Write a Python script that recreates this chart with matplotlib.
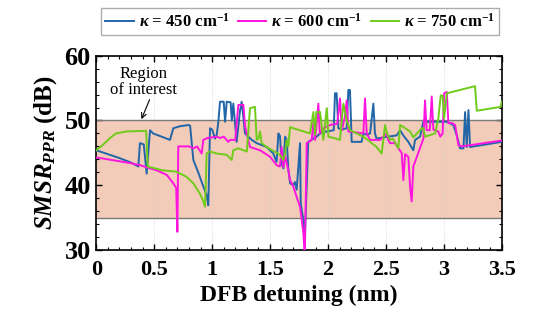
import matplotlib
matplotlib.use("Agg")
import matplotlib.pyplot as plt
from matplotlib.ticker import MultipleLocator, FuncFormatter

plt.rcParams['font.family'] = ['Liberation Serif', 'DejaVu Serif']
plt.rcParams['font.weight'] = 'bold'
plt.rcParams['mathtext.fontset'] = 'custom'
plt.rcParams['mathtext.rm'] = 'Liberation Serif:bold'
plt.rcParams['mathtext.it'] = 'Liberation Serif:italic:bold'
plt.rcParams['mathtext.bf'] = 'Liberation Serif:bold'

# ---- data ----
x450 = [0, 0.1, 0.2, 0.3, 0.363, 0.377, 0.41, 0.435, 0.464, 0.49, 0.55, 0.636, 0.665, 0.72, 0.795, 0.81,
        0.838, 0.88, 0.924, 0.953, 0.967, 0.982, 1.0, 1.025, 1.04, 1.054, 1.068, 1.10, 1.112, 1.126, 1.16,
        1.17, 1.183, 1.198, 1.212, 1.241, 1.255, 1.284, 1.342, 1.385, 1.471, 1.528, 1.557, 1.572, 1.586,
        1.600, 1.615, 1.630, 1.644, 1.658, 1.673, 1.70, 1.715, 1.730, 1.745, 1.759, 1.765, 1.788, 1.80,
        1.83, 1.874, 1.903, 1.932, 1.96, 1.99, 2.02, 2.05, 2.061, 2.075, 2.09, 2.12, 2.162, 2.176, 2.19,
        2.205, 2.26, 2.29, 2.306, 2.335, 2.364, 2.392, 2.406, 2.42, 2.52, 2.594, 2.623, 2.65, 2.694, 2.737,
        2.752, 2.795, 2.824, 2.94, 3.026, 3.083, 3.112, 3.14, 3.17, 3.184, 3.198, 3.213, 3.227, 3.5]
y450 = [45.4, 44.8, 44.2, 43.5, 42.9, 46.5, 46.3, 41.8, 48.5, 48.0, 47.6, 47.0, 48.8, 49.1, 49.3, 49.2,
        43.9, 42.0, 39.8, 38.5, 36.9, 48.8, 48.6, 47.2, 47.8, 49.8, 52.9, 52.9, 49.8, 52.9, 52.8,
        50.0, 52.6, 49.5, 46.7, 51.5, 52.9, 48.0, 47.0, 46.5, 45.9, 44.9, 43.6, 48.0, 47.6,
        43.4, 42.6, 47.5, 47.0, 42.5, 40.3, 40.0, 40.5, 39.3, 43.0, 46.5, 37.2, 34.6, 31.5,
        46.7, 47.2, 47.5, 48.0, 48.2, 48.3, 48.4, 48.5, 54.2, 54.2, 48.8, 48.6, 48.8, 54.7, 54.7,
        46.7, 46.7, 46.7, 48.0, 47.8, 48.0, 52.6, 48.0, 47.2, 47.5, 47.7, 48.5, 47.7, 46.7, 45.4,
        47.0, 47.5, 49.8, 49.8, 49.8, 49.3, 47.7, 45.7, 45.7, 51.3, 45.9, 51.6, 45.9, 46.7]

x600 = [0, 0.1, 0.2, 0.3, 0.377, 0.45, 0.521, 0.608, 0.665, 0.69, 0.70, 0.708, 0.75, 0.80, 0.838, 0.87,
        0.91, 0.924, 0.96, 1.04, 1.07, 1.10, 1.14, 1.155, 1.20, 1.226, 1.27, 1.285, 1.327, 1.414, 1.5,
        1.557, 1.586, 1.60, 1.615, 1.63, 1.658, 1.673, 1.701, 1.73, 1.759, 1.788, 1.80, 1.817, 1.86,
        1.874, 1.89, 1.917, 1.93, 1.96, 2.018, 2.08, 2.104, 2.12, 2.145, 2.162, 2.177, 2.306, 2.32,
        2.335, 2.364, 2.45, 2.507, 2.52, 2.536, 2.58, 2.608, 2.637, 2.651, 2.666, 2.694, 2.709, 2.723,
        2.737, 2.78, 2.824, 2.838, 2.852, 2.88, 2.896, 2.91, 2.953, 2.97, 2.99, 3.003, 3.026, 3.04,
        3.07, 3.098, 3.126, 3.155, 3.5]
y600 = [44.3, 44.0, 43.7, 43.4, 43.1, 42.7, 42.3, 41.6, 40.3, 39.6, 32.8, 46.0, 46.0, 46.0, 45.7, 46.0,
        44.9, 47.0, 47.3, 47.5, 47.3, 47.5, 46.7, 47.0, 47.0, 52.4, 52.4, 49.0, 45.9, 45.4, 44.4,
        43.1, 42.9, 45.9, 42.8, 44.5, 42.3, 40.8, 39.8, 38.2, 36.7, 32.6, 29.0, 46.5, 47.0,
        49.6, 47.0, 52.6, 48.0, 48.8, 49.3, 49.5, 53.4, 48.5, 50.5, 53.1, 48.3, 48.0, 53.4,
        48.0, 47.0, 47.0, 48.0, 47.0, 46.5, 46.5, 45.7, 45.0, 40.8, 44.8, 44.4, 39.8, 37.5,
        42.9, 45.0, 47.2, 53.1, 48.5, 48.5, 53.7, 48.6, 48.3, 47.5, 48.0, 54.2, 54.4, 49.6,
        49.6, 49.3, 46.2, 46.0, 46.9]

x750 = [0, 0.055, 0.112, 0.17, 0.256, 0.43, 0.444, 0.573, 0.688, 0.723, 0.78, 0.838, 0.895, 0.924, 0.939,
        0.953, 0.98, 1.04, 1.126, 1.169, 1.183, 1.226, 1.30, 1.327, 1.37, 1.385, 1.40, 1.414, 1.428,
        1.471, 1.586, 1.615, 1.63, 1.644, 1.658, 1.673, 1.701, 1.845, 1.874, 1.888, 1.90, 1.932, 1.96,
        1.99, 2.004, 2.05, 2.104, 2.133, 2.162, 2.19, 2.306, 2.364, 2.42, 2.464, 2.493, 2.51, 2.536,
        2.56, 2.608, 2.623, 2.65, 2.709, 2.737, 2.81, 2.824, 2.838, 2.925, 2.953, 2.974, 2.99, 3.003,
        3.026, 3.27, 3.285, 3.49, 3.5]
y750 = [45.4, 46.2, 47.2, 48.0, 48.3, 48.4, 42.9, 42.3, 42.1, 41.8, 41.3, 40.3, 38.7, 37.5, 36.7,
        44.9, 45.2, 44.9, 44.7, 43.9, 45.4, 45.7, 45.2, 51.9, 52.1, 47.0, 47.2, 48.3, 46.5,
        45.9, 44.7, 43.9, 45.0, 47.0, 46.0, 49.0, 48.8, 48.0, 51.3, 47.8, 51.3, 51.3, 47.0,
        51.9, 47.5, 47.3, 47.0, 52.6, 50.0, 48.5, 47.5, 46.7, 45.9, 44.9, 49.3, 48.0, 47.0,
        47.2, 45.7, 49.3, 49.0, 48.3, 47.4, 48.8, 48.8, 47.5, 48.0, 50.3, 53.9, 53.8, 50.3,
        54.2, 55.3, 51.5, 52.1, 52.9]

region_low, region_high = 35, 50
labels = [r'$\kappa$ = 450 cm$^{\mathbf{-1}}$', r'$\kappa$ = 600 cm$^{\mathbf{-1}}$',
          r'$\kappa$ = 750 cm$^{\mathbf{-1}}$']
colors = ['#2166a8', '#ff14e0', '#6fcc1a']

fig = plt.figure(figsize=(5.34, 3.26), dpi=100)
ax = fig.add_axes([0.1803, 0.2331, 0.7592, 0.596])

ax.axhspan(region_low, region_high, facecolor='#f2cbb9', edgecolor='none', zorder=0)
ax.axhline(region_low, color='#7a7a7a', lw=1.0, zorder=1)
ax.axhline(region_high, color='#7a7a7a', lw=1.0, zorder=1)

for xs, ys, c, lab in zip([x450, x600, x750], [y450, y600, y750], colors, labels):
    ax.plot(xs, ys, color=c, lw=1.4, label=lab, zorder=3)

ax.set_xlim(0, 3.5)
ax.set_ylim(30, 60)
ax.xaxis.set_major_locator(MultipleLocator(0.5))
ax.xaxis.set_minor_locator(MultipleLocator(0.1))
ax.yaxis.set_major_locator(MultipleLocator(10))
ax.yaxis.set_minor_locator(MultipleLocator(2))
ax.xaxis.set_major_formatter(FuncFormatter(lambda v, p: f'{v:g}'))
ax.tick_params(which='both', direction='in', top=True, right=True)
ax.tick_params(which='major', length=4, width=1)
ax.tick_params(which='minor', length=2.5, width=0.8)
ax.tick_params(axis='x', labelsize=16, pad=7)
ax.tick_params(axis='y', labelsize=19, pad=4)
ax.grid(axis='x', which='major', color='#d0d0d0', linestyle=':', lw=0.6)
ax.set_axisbelow(True)
for s in ax.spines.values():
    s.set_linewidth(1.2)

ax.set_xlabel('DFB detuning (nm)', fontsize=17, fontweight='bold', labelpad=4)
ax.set_ylabel(r'$SMSR_{PPR}$ (dB)', fontsize=18, fontweight='bold', labelpad=4)

ax.text(0.41, 56.0, 'Region\nof interest', ha='center', va='center', fontsize=12,
        fontweight='normal', linespacing=1.0)
ax.annotate('', xy=(0.39, 50.2), xytext=(0.46, 53.2),
            arrowprops=dict(arrowstyle='->', color='black', lw=0.8, shrinkA=0, shrinkB=0,
                            mutation_scale=9))

leg = fig.legend(loc='upper center', bbox_to_anchor=(0.562, 1.0), ncol=3, frameon=True,
                 fancybox=False, edgecolor='#999999', handlelength=1.7,
                 handletextpad=0.3, columnspacing=0.5, borderpad=0.25,
                 prop={'weight': 'bold', 'size': 12})

fig.savefig('out.png', dpi=100)
